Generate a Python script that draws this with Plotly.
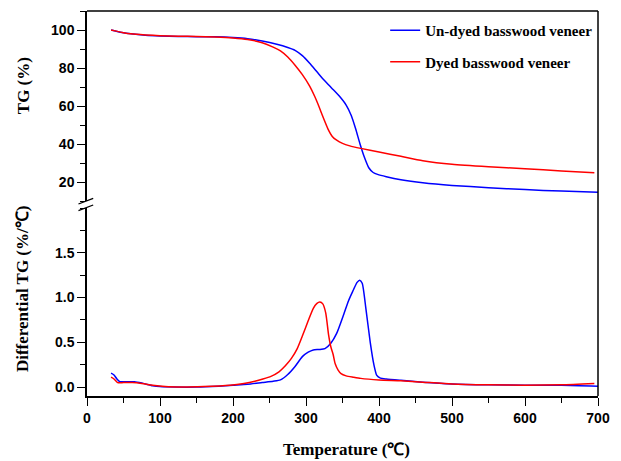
import plotly.graph_objects as go

# ---------------- data ----------------
tg_undyed_x = [33, 40, 50, 60, 80, 100, 125, 150, 175, 200, 220, 240, 260, 275, 285, 295, 305, 315,
               325, 335, 345, 355, 362, 368, 374, 380, 386, 392, 398, 410, 430, 460, 500, 550, 600, 650, 700]
tg_undyed_y = [100, 99.3, 98.5, 98.0, 97.3, 96.9, 96.6, 96.5, 96.4, 96.0, 95.4, 94.2, 92.5, 90.8, 89.3,
               86.5, 82.5, 78, 73.5, 69.5, 65.5, 60.5, 55, 48, 40, 33, 27.5, 25, 24, 22.8, 21.2, 19.6,
               18.2, 17.0, 16.0, 15.2, 14.6]

tg_dyed_x = [33, 40, 50, 60, 80, 100, 125, 150, 175, 200, 220, 240, 255, 265, 275, 285, 295, 305, 312,
             318, 324, 330, 336, 342, 350, 360, 375, 400, 430, 460, 500, 550, 600, 650, 695]
tg_dyed_y = [100, 99.4, 98.6, 98.0, 97.4, 97.0, 96.7, 96.6, 96.3, 95.8, 95.0, 93.3, 91, 89, 85.8, 81.5,
             76.5, 70.5, 65, 59.5, 53.5, 48, 44, 42, 40.3, 39, 37.7, 35.8, 33.5, 31.2, 29.3, 28.0, 27.0,
             25.8, 24.9]

dtg_undyed_x = [33, 37, 41, 45, 55, 65, 75, 90, 100, 120, 150, 180, 200, 220, 240, 255, 265, 275, 285,
                295, 303, 310, 318, 326, 334, 342, 352, 358, 364, 370, 373.5, 377, 382, 388, 393, 397,
                402, 410, 430, 460, 500, 550, 600, 650, 700]
dtg_undyed_y = [0.155, 0.135, 0.09, 0.06, 0.06, 0.06, 0.045, 0.015, 0.005, 0.0, 0.0, 0.01, 0.02, 0.03,
                0.05, 0.065, 0.08, 0.14, 0.23, 0.34, 0.39, 0.415, 0.42, 0.43, 0.49, 0.60, 0.82, 0.96,
                1.07, 1.17, 1.195, 1.16, 0.88, 0.50, 0.25, 0.13, 0.10, 0.09, 0.075, 0.055, 0.035, 0.025,
                0.02, 0.02, 0.01]

dtg_dyed_x = [33, 37, 42, 50, 62, 75, 90, 107, 130, 160, 196, 215, 230, 241, 252, 263, 272, 280, 288,
              295, 303, 310, 315, 319, 323, 327, 331, 334, 337, 340, 344, 348, 355, 365, 375, 400, 430,
              460, 500, 550, 600, 650, 695]
dtg_dyed_y = [0.11, 0.09, 0.05, 0.05, 0.05, 0.04, 0.02, 0.005, 0.0, 0.005, 0.02, 0.04, 0.065, 0.09, 0.12,
              0.17, 0.24, 0.32, 0.43, 0.57, 0.74, 0.88, 0.935, 0.95, 0.93, 0.83, 0.58, 0.45, 0.37, 0.26,
              0.19, 0.15, 0.125, 0.11, 0.097, 0.08, 0.07, 0.055, 0.035, 0.025, 0.02, 0.025, 0.04]

series_names = ["Un-dyed basswood veneer", "Dyed basswood veneer"]
x_ticks = [0, 100, 200, 300, 400, 500, 600, 700]
tg_ticks = [20, 40, 60, 80, 100]
dtg_ticks = [0.0, 0.5, 1.0, 1.5]
dtg_tick_text = ["0.0", "0.5", "1.0", "1.5"]

BLUE = "#0000FF"
RED = "#FF0000"
serif = "Liberation Serif"
sans = "Liberation Sans"

fig = go.Figure()

# TG (top panel)
fig.add_trace(go.Scatter(x=tg_undyed_x, y=tg_undyed_y, mode="lines", name=series_names[0],
                         line=dict(color=BLUE, width=1.5, shape="spline", smoothing=0.6),
                         xaxis="x2", yaxis="y2", legendgroup="a"))
fig.add_trace(go.Scatter(x=tg_dyed_x, y=tg_dyed_y, mode="lines", name=series_names[1],
                         line=dict(color=RED, width=1.5, shape="spline", smoothing=0.6),
                         xaxis="x2", yaxis="y2", legendgroup="b"))
# DTG (bottom panel)
fig.add_trace(go.Scatter(x=dtg_undyed_x, y=dtg_undyed_y, mode="lines", name=series_names[0],
                         line=dict(color=BLUE, width=1.5, shape="spline", smoothing=0.6),
                         xaxis="x", yaxis="y", showlegend=False, legendgroup="a"))
fig.add_trace(go.Scatter(x=dtg_dyed_x, y=dtg_dyed_y, mode="lines", name=series_names[1],
                         line=dict(color=RED, width=1.5, shape="spline", smoothing=0.6),
                         xaxis="x", yaxis="y", showlegend=False, legendgroup="b"))

tickfont = dict(family=sans, size=14, color="black", weight="bold")
minor_common = dict(ticks="outside", ticklen=5, tickcolor="black", tickwidth=1.3)

TOP_DOM = [0.5065, 1.0]
BOT_DOM = [0.0, 0.488]

fig.update_layout(
    width=621, height=461,
    margin=dict(l=87, r=12, t=11, b=65),
    paper_bgcolor="white", plot_bgcolor="white",
    showlegend=True,
    xaxis=dict(domain=[0, 1], anchor="y", range=[0, 700], tickvals=x_ticks,
               ticks="outside", ticklen=8, tickwidth=1.3, tickcolor="black",
               showline=True, linecolor="black", linewidth=1.5, showgrid=False, zeroline=False,
               tickfont=tickfont, minor=dict(dtick=50, tick0=0, **minor_common)),
    xaxis2=dict(domain=[0, 1], anchor="y2", range=[0, 700], matches="x",
                showticklabels=False, ticks="", showline=False, showgrid=False, zeroline=False),
    yaxis=dict(domain=BOT_DOM, anchor="x", range=[-0.1, 2.0], tickvals=dtg_ticks, ticktext=dtg_tick_text,
               ticks="outside", ticklen=8, tickwidth=1.3, tickcolor="black",
               showline=True, linecolor="black", linewidth=1.5, showgrid=False, zeroline=False,
               tickfont=tickfont, minor=dict(dtick=0.25, tick0=0, **minor_common)),
    yaxis2=dict(domain=TOP_DOM, anchor="x2", range=[10, 110], tickvals=tg_ticks,
                ticks="outside", ticklen=8, tickwidth=1.3, tickcolor="black",
                showline=True, linecolor="black", linewidth=1.5, showgrid=False, zeroline=False,
                tickfont=tickfont, minor=dict(dtick=10, tick0=0, **minor_common)),
    legend=dict(x=0.5835, y=0.992, xanchor="left", yanchor="top", bgcolor="rgba(0,0,0,0)",
                borderwidth=0, tracegroupgap=9, traceorder="grouped",
                font=dict(family=serif, size=15, color="black", weight="bold")),
)

# frame (top and right borders)
fig.add_shape(type="line", xref="paper", yref="paper", x0=0, x1=1, y0=1, y1=1,
              line=dict(color="black", width=1.5))
fig.add_shape(type="line", xref="paper", yref="paper", x0=1, x1=1, y0=0, y1=1,
              line=dict(color="black", width=1.5))
# axis break marks
fig.add_shape(type="line", xref="paper", yref="paper", x0=-0.0167, x1=0.0121, y0=0.4987, y1=0.5135,
              line=dict(color="black", width=1.3))
fig.add_shape(type="line", xref="paper", yref="paper", x0=-0.0167, x1=0.0121, y0=0.4813, y1=0.4961,
              line=dict(color="black", width=1.3))

title_font = dict(family=serif, size=17, color="black", weight="bold")
fig.add_annotation(text="TG (%)", xref="paper", yref="paper", x=-0.125, y=0.805,
                   xanchor="center", yanchor="middle", textangle=-90, showarrow=False, font=title_font)
fig.add_annotation(text="Differential TG (%/℃)", xref="paper", yref="paper", x=-0.125, y=0.278,
                   xanchor="center", yanchor="middle", textangle=-90, showarrow=False, font=title_font)
fig.add_annotation(text="Temperature (℃)", xref="paper", yref="paper", x=0.508, y=-0.140,
                   xanchor="center", yanchor="middle", showarrow=False, font=title_font)

fig.write_html("out.html", config={"displayModeBar": False},
               post_script="document.body.style.margin='0';document.body.style.overflow='hidden';")
